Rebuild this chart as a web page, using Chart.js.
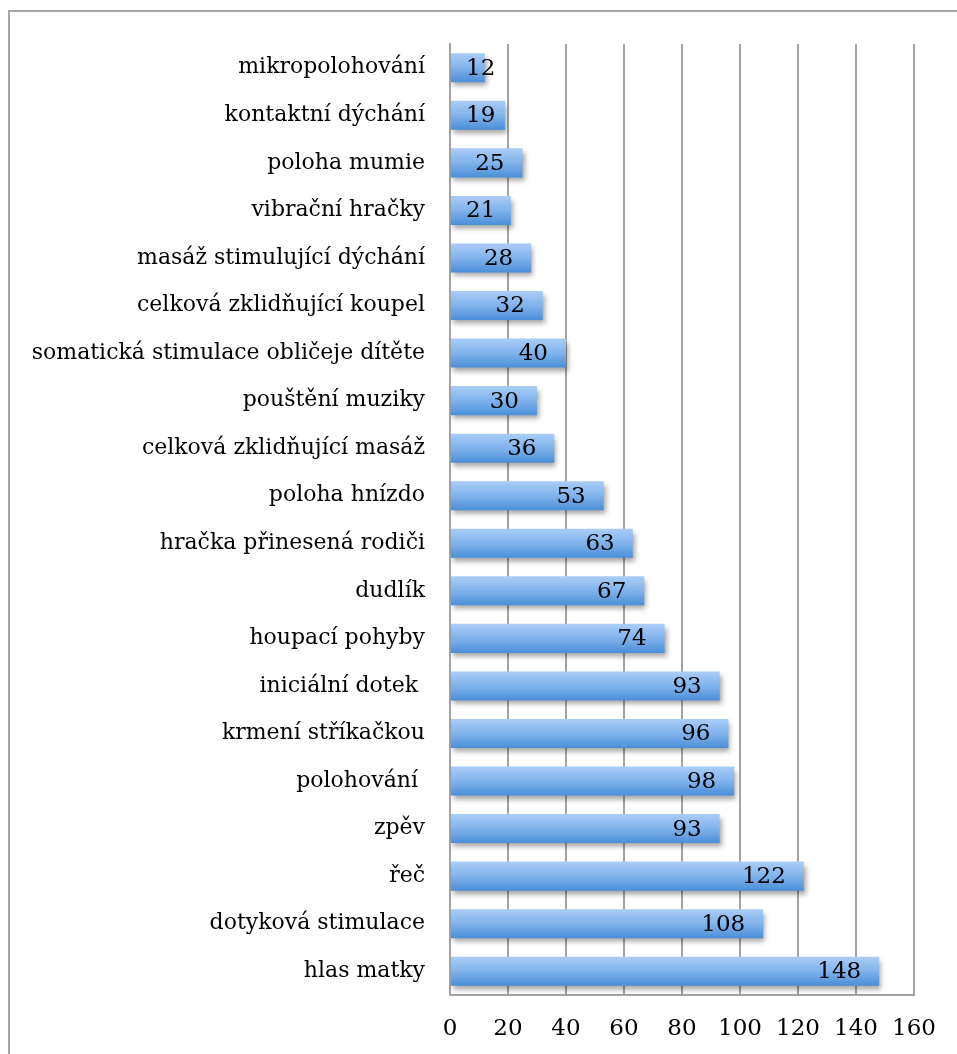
<!DOCTYPE html>
<html>
<head>
<meta charset="utf-8">
<script src="https://cdn.jsdelivr.net/npm/chart.js@4"></script>
<style>
  html, body { margin: 0; padding: 0; background: #fff; overflow: hidden; }
  .frame {
    position: absolute; left: 8px; top: 10px; width: 1000px; height: 1100px;
    border-left: 2px solid #a6a6a6; border-top: 2px solid #a6a6a6;
  }
  .wrap { position: absolute; left: 0; top: 0; width: 957px; height: 1054px; }
</style>
</head>
<body>
<div class="frame"></div>
<div class="wrap"><canvas id="graf"></canvas></div>
<script>
// kategorie shora dolů
const categories = [
  'mikropolohování',
  'kontaktní dýchání',
  'poloha mumie',
  'vibrační hračky',
  'masáž stimulující dýchání',
  'celková zklidňující koupel',
  'somatická stimulace obličeje dítěte',
  'pouštění muziky',
  'celková zklidňující masáž',
  'poloha hnízdo',
  'hračka přinesená rodiči',
  'dudlík',
  'houpací pohyby',
  'iniciální dotek ',
  'krmení stříkačkou',
  'polohování ',
  'zpěv',
  'řeč',
  'dotyková stimulace',
  'hlas matky'
];
const counts = [12, 19, 25, 21, 28, 32, 40, 30, 36, 53, 63, 67, 74, 93, 96, 98, 93, 122, 108, 148];
const xTicks = [0, 20, 40, 60, 80, 100, 120, 140, 160];

const FONT = 'DejaVu Serif';
const BAR_PCT = 0.61;

// stín pod sloupci
const shadowPlugin = {
  id: 'barShadow',
  beforeDatasetDraw(chart) {
    const c = chart.ctx;
    c.save();
    c.shadowColor = 'rgba(0,0,0,0.35)';
    c.shadowBlur = 5;
    c.shadowOffsetX = 2;
    c.shadowOffsetY = 4;
  },
  afterDatasetDraw(chart) {
    chart.ctx.restore();
  }
};

// popisky hodnot u konce sloupce
const valueLabels = {
  id: 'valueLabels',
  afterDatasetsDraw(chart) {
    const c = chart.ctx;
    const meta = chart.getDatasetMeta(0);
    const base = chart.scales.x.getPixelForValue(0);
    c.save();
    c.font = '23px "' + FONT + '"';
    c.fillStyle = '#000';
    c.textAlign = 'right';
    c.textBaseline = 'middle';
    meta.data.forEach((bar, i) => {
      const txt = String(counts[i]);
      const w = c.measureText(txt).width;
      const x = Math.max(bar.x - 18, base + w + 16);
      c.fillText(txt, x, bar.y + 1);
    });
    c.restore();
  }
};

function barGradient(ctx) {
  const chart = ctx.chart;
  const y = chart.scales.y;
  if (!y || y.height == null) return '#6ea6e6';
  const step = y.height / categories.length;
  const mid = y.getPixelForValue(ctx.dataIndex);
  const half = step * BAR_PCT / 2;
  const g = chart.ctx.createLinearGradient(0, mid - half, 0, mid + half);
  g.addColorStop(0, '#aacdf7');
  g.addColorStop(0.5, '#80b3ec');
  g.addColorStop(1, '#4a8fd8');
  return g;
}

new Chart(document.getElementById('graf'), {
  type: 'bar',
  data: {
    labels: categories,
    datasets: [{
      data: counts,
      backgroundColor: barGradient,
      borderWidth: 0,
      barPercentage: BAR_PCT,
      categoryPercentage: 1
    }]
  },
  options: {
    indexAxis: 'y',
    responsive: true,
    maintainAspectRatio: false,
    animation: false,
    layout: { padding: { top: 44, right: 43, left: 0, bottom: 0 } },
    plugins: {
      legend: { display: false },
      tooltip: { enabled: false }
    },
    scales: {
      x: {
        min: 0,
        max: 160,
        afterBuildTicks(scale) { scale.ticks = xTicks.map(v => ({ value: v })); },
        afterFit(scale) { scale.height = 59; },
        grid: { color: '#a3a3a3', lineWidth: 2, drawTicks: false },
        border: { display: true, color: '#a3a3a3', width: 2 },
        ticks: {
          color: '#000',
          padding: 20,
          font: { family: FONT, size: 23 }
        }
      },
      y: {
        afterFit(scale) { scale.width = 450; },
        grid: { display: false, drawTicks: false },
        border: { display: true, color: '#a3a3a3', width: 2 },
        ticks: {
          color: '#000',
          padding: 25,
          autoSkip: false,
          font: { family: FONT, size: 22 }
        }
      }
    }
  },
  plugins: [shadowPlugin, valueLabels]
});
</script>
</body>
</html>
